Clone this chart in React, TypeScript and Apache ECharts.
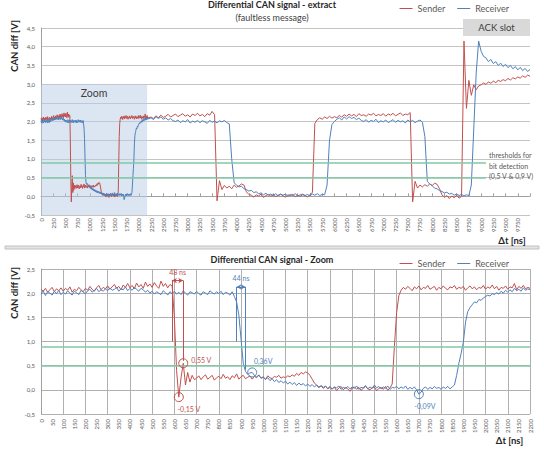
import React, { useEffect, useRef } from "react";
import * as echarts from "echarts";

// ---------- colours ----------
const SENDER_COLOR = "#c0504d";
const RECEIVER_COLOR = "#4f81bd";
const THRESHOLD_COLOR = "#7fc9a6";
const GRID_COLOR = "#c4c4c4";
const TEXT_COLOR = "#595959";
const FONT = "Lato, 'Open Sans', sans-serif";

// ---------- data ----------
// Zoomed window: one sample every 10 ns, 0 .. 2200 ns (CAN diff in V)
const zoomStartNs = 0;
const zoomStepNs = 10;
const senderZoom = [
  2.08, 2.04, 2.1, 2.02, 2.07, 2.12, 2.03, 2.09, 2.05, 2.11,
  2.04, 2.1, 2.06, 2.13, 2.02, 2.08, 2.05, 2.12, 2.07, 2.03,
  2.1, 2.06, 2.14, 2.08, 2.04, 2.11, 2.16, 2.07, 2.12, 2.09,
  2.15, 2.08, 2.13, 2.18, 2.1, 2.14, 2.07, 2.17, 2.12, 2.2,
  2.11, 2.16, 2.09, 2.21, 2.13, 2.18, 2.1, 2.23, 2.14, 2.19,
  2.12, 2.22, 2.15, 2.1, 2.25, 2.14, 2.2, 2.11, 2.18, 2.15,
  1.5, 0.4, -0.15, 0.25, 0.55, 0.1, 0.36, 0.16, 0.3, 0.21,
  0.24, 0.29, 0.21, 0.27, 0.31, 0.22, 0.26, 0.3, 0.2, 0.25,
  0.28, 0.23, 0.32, 0.24, 0.27, 0.21, 0.29, 0.25, 0.33, 0.22,
  0.27, 0.3, 0.23, 0.26, 0.29, 0.22, 0.28, 0.25, 0.31, 0.24,
  0.27, 0.21, 0.29, 0.25, 0.23, 0.28, 0.26, 0.3, 0.24, 0.27,
  0.25, 0.29, 0.27, 0.31, 0.28, 0.34, 0.3, 0.36, 0.33, 0.37,
  0.35, 0.3, 0.22, 0.14, 0.1, 0.06, 0.08, 0.03, 0.07, 0.02,
  0.05, 0.01, 0.06, -0.02, 0.04, 0.07, 0.0, 0.05, 0.02, -0.03,
  0.04, 0.06, 0.01, 0.05, -0.01, 0.03, 0.07, 0.02, 0.0, 0.04,
  0.06, -0.02, 0.03, 0.05, 0.01, 0.07, -0.01, 0.04, 0.12, 0.9,
  1.6, 1.95, 2.06, 2.12, 2.08, 2.14, 2.1, 2.05, 2.13, 2.09,
  2.15, 2.07, 2.12, 2.1, 2.16, 2.08, 2.11, 2.14, 2.06, 2.12,
  2.09, 2.15, 2.1, 2.07, 2.13, 2.11, 2.16, 2.08, 2.12, 2.1,
  2.14, 2.06, 2.11, 2.15, 2.09, 2.13, 2.07, 2.12, 2.1, 2.16,
  2.08, 2.13, 2.1, 2.17, 2.09, 2.14, 2.06, 2.12, 2.1, 2.15,
  2.08, 2.13, 2.11, 2.2, 2.07, 2.14, 2.1, 2.16, 2.09, 2.12,
  2.1,
];
const receiverZoom = [
  1.98, 2.05, 1.95, 2.03, 2.0, 1.96, 2.04, 1.99, 2.06, 1.97,
  2.02, 1.98, 2.05, 2.0, 1.96, 2.04, 2.01, 1.97, 2.06, 2.02,
  1.99, 2.05, 2.08, 2.02, 2.06, 2.1, 2.03, 2.07, 2.04, 2.09,
  2.05, 2.11, 2.06, 2.08, 2.12, 2.04, 2.09, 2.07, 2.13, 2.05,
  2.1, 2.06, 2.12, 2.08, 2.04, 2.1, 2.07, 2.02, 2.06, 2.0,
  2.04, 1.98, 2.03, 2.0, 1.97, 2.05, 2.01, 1.96, 2.03, 1.99,
  2.04, 1.98, 2.02, 1.97, 2.05, 2.0, 1.96, 2.03, 2.01, 1.98,
  2.04, 1.99, 1.96, 2.03, 2.0, 1.97, 2.05, 2.01, 1.98, 2.03,
  1.99, 2.04, 1.97, 2.02, 2.0, 1.96, 2.03, 1.93, 1.82, 1.55,
  1.05, 0.55, 0.38, 0.32, 0.35, 0.36, 0.3, 0.27, 0.3, 0.24,
  0.26, 0.22, 0.25, 0.19, 0.23, 0.17, 0.21, 0.15, 0.19, 0.14,
  0.18, 0.12, 0.16, 0.11, 0.15, 0.09, 0.14, 0.1, 0.13, 0.08,
  0.12, 0.07, 0.11, 0.06, 0.1, 0.04, 0.09, 0.05, 0.08, 0.03,
  0.07, 0.02, 0.06, 0.04, 0.08, 0.01, 0.05, 0.03, 0.07, 0.02,
  0.06, 0.03, 0.08, 0.01, 0.05, 0.04, 0.09, 0.02, 0.06, 0.03,
  0.1, 0.04, 0.07, 0.02, 0.06, 0.03, 0.08, 0.01, 0.05, 0.04,
  0.07, 0.02, 0.06, 0.03, 0.08, 0.01, 0.05, 0.02, 0.06, 0.0,
  -0.09, -0.05, 0.03, 0.06, 0.01, 0.05, 0.02, 0.07, 0.03, 0.05,
  0.01, 0.06, 0.03, 0.07, 0.02, 0.06, 0.1, 0.3, 0.55, 0.75,
  0.98, 1.4, 1.62, 1.7, 1.76, 1.82, 1.8, 1.87, 1.85, 1.9,
  1.93, 1.96, 1.94, 1.99, 1.97, 2.01, 1.98, 2.04, 2.0, 2.06,
  2.02, 2.07, 2.03, 2.1, 2.05, 2.08, 2.04, 2.11, 2.06, 2.09,
  2.07,
];

// Rest of the message: one sample every 50 ns, 2250 .. 10000 ns
const extractStartNs = 2250;
const extractStepNs = 50;
const senderExtract = [
  2.12, 2.08, 2.15, 2.1, 2.17, 2.11, 2.14, 2.19, 2.12, 2.16,
  2.2, 2.13, 2.17, 2.21, 2.14, 2.18, 2.12, 2.2, 2.16, 2.22,
  2.15, 2.19, 2.13, 2.21, 2.17, 2.27, 2.18,
  -0.12, 0.42, 0.18, 0.29, 0.22, 0.27, 0.2, 0.3, 0.24, 0.28, 0.33, 0.3, 0.12, 0.05,
  0.03, -0.02, 0.04, 0.01, 0.06, -0.03, 0.02, 0.05, 0.0, 0.04,
  -0.01, 0.03, 0.06, 0.01, -0.02, 0.04, 0.02, 0.05, -0.01, 0.03,
  0.0, 0.04, 0.02, -0.02, 0.05,
  0.1, 1.95,
  2.05, 2.1, 2.06, 2.12, 2.08, 2.14, 2.09, 2.13, 2.1, 2.16,
  2.12, 2.18, 2.14, 2.2, 2.15, 2.19, 2.13, 2.21, 2.16, 2.18,
  2.14, 2.2, 2.17, 2.22, 2.15, 2.19, 2.16, 2.21, 2.14, 2.2,
  2.17, 2.22, 2.15, 2.19, 2.23, 2.16, 2.2, 2.18, 2.24,
  -0.15, 0.4, 0.22, 0.3, 0.25, 0.31, 0.27, 0.33, 0.29, 0.35, 0.32, 0.2, 0.04,
  -0.03, 0.02, -0.06, 0.01, -0.04, 0.03, -0.05, 0.0,
  4.15, 2.35, 3.1, 2.7, 2.98, 2.85, 2.95,
  2.98, 3.03, 2.99, 3.06, 3.02, 3.08, 3.04, 3.1, 3.07, 3.12,
  3.09, 3.15, 3.11, 3.17, 3.14, 3.19, 3.16, 3.22, 3.18, 3.24, 3.21,
];
const receiverExtract = [
  2.1, 2.05, 2.13, 2.08, 2.12, 2.06, 2.1, 2.04, 2.08, 2.02,
  2.0, 2.04, 1.97, 2.02, 1.99, 2.05, 1.96, 2.01, 1.98, 2.03,
  1.97, 2.02, 1.99, 1.95, 2.03, 1.98, 2.01, 1.96, 2.02, 1.99, 2.03, 1.97,
  1.94, 1.0, 0.36, 0.3, 0.25, 0.27, 0.2, 0.18, 0.14, 0.16,
  0.1, 0.12, 0.07, 0.09, 0.04, 0.08, 0.03, 0.06, 0.02, 0.07,
  0.01, 0.05, 0.03, 0.06, 0.0, 0.05, 0.02, 0.07, 0.01, 0.04,
  0.06, 0.02, 0.05, 0.01, 0.06, 0.03, 0.07, 0.02, 0.05, 0.04,
  0.3, 1.5, 1.92, 2.0,
  2.06, 2.1, 2.04, 2.12, 2.07, 2.13, 2.08, 2.11, 2.05, 2.09,
  2.03, 2.0, 2.05, 1.98, 2.03, 2.0, 2.06, 1.97, 2.02, 1.99,
  2.04, 1.97, 2.01, 2.05, 1.98, 2.03, 1.99, 2.02, 1.96, 2.04,
  1.99, 2.03, 1.97, 2.01, 2.04, 1.98,
  1.6, 0.4, 0.33, 0.28, 0.22, 0.2, 0.15, 0.13, 0.09, 0.11,
  0.06, 0.08, 0.03, 0.06, 0.02, 0.05, 0.01, 0.04, 0.02,
  0.3, 1.8, 3.3, 4.15,
  3.88, 3.74, 3.7, 3.6, 3.66, 3.55, 3.6, 3.5, 3.56, 3.47,
  3.53, 3.44, 3.5, 3.41, 3.47, 3.38, 3.45, 3.36, 3.42, 3.34, 3.39,
];

// Axes
const extractRangeNs = [0, 10000];
const extractTickNs = 250;
const extractRangeV = [-0.5, 4.5];
const zoomRangeNs = [0, 2200];
const zoomLabelTickNs = 50;
const zoomGridTickNs = 100;
const zoomRangeV = [-0.5, 2.5];
const voltTick = 0.5;

// Annotations
const thresholdsV = [0.5, 0.9];
const thresholdLineEndNs = 9100;
const zoomWindowNs = [0, 2170];
const zoomWindowTopV = 3;
const senderDelay = { fromNs: 589, toNs: 640, levelV: 2.26, textV: 2.44, fromBottomV: 1.0, toBottomV: 0.6, label: "48 ns" };
const receiverDelay = { fromNs: 879, toNs: 921, levelV: 2.13, textV: 2.31, fromBottomV: 1.0, toBottomV: 0.42, label: "44 ns" };
const senderMarks = [
  { ns: 620, v: -0.15, label: "-0,15 V", pos: "bottom", offset: [10, 0] },
  { ns: 640, v: 0.55, label: "0,55 V", pos: "right", offset: [0, -3] },
];
const receiverMarks = [
  { ns: 950, v: 0.36, label: "0,36V", pos: "top", offset: [11, 0] },
  { ns: 1700, v: -0.09, label: "-0,09V", pos: "bottom", offset: [6, 0] },
];

const toPairs = (start: number, step: number, values: number[]) =>
  values.map((v, i) => [start + i * step, v]);

const fmtV = (v: number) => v.toFixed(1).replace(".", ",");

function buildOption() {
  const topSender = [
    ...toPairs(zoomStartNs, zoomStepNs, senderZoom),
    ...toPairs(extractStartNs, extractStepNs, senderExtract),
  ];
  const topReceiver = [
    ...toPairs(zoomStartNs, zoomStepNs, receiverZoom),
    ...toPairs(extractStartNs, extractStepNs, receiverExtract),
  ];
  const botSender = toPairs(zoomStartNs, zoomStepNs, senderZoom);
  const botReceiver = toPairs(zoomStartNs, zoomStepNs, receiverZoom);

  const labelX = {
    rotate: 90,
    fontSize: 6,
    color: TEXT_COLOR,
    fontFamily: FONT,
    formatter: (v: number) => String(v),
  };
  const labelY = {
    fontSize: 6,
    color: TEXT_COLOR,
    fontFamily: FONT,
    formatter: fmtV,
    margin: 6,
  };

  const lineSeries = (name: string, color: string, data: number[][], xi: number, yi: number, extra: any = {}) => ({
    name,
    type: "line",
    xAxisIndex: xi,
    yAxisIndex: yi,
    data,
    symbol: "none",
    showSymbol: false,
    lineStyle: { width: 1, color },
    itemStyle: { color },
    z: 2,
    animation: false,
    ...extra,
  });

  const thresholdLines = (endNs: number) =>
    thresholdsV.map((v) => [{ coord: [0, v] }, { coord: [endNs, v] }]);

  const delayMarkLine = (d: any, color: string) => ({
    silent: true,
    symbol: "none",
    animation: false,
    label: { show: false },
    lineStyle: { color, width: 1, type: "solid" },
    data: [
      [{ coord: [d.fromNs, d.levelV] }, { coord: [d.fromNs, d.fromBottomV] }],
      [{ coord: [d.toNs, d.levelV] }, { coord: [d.toNs, d.toBottomV] }],
      [
        { coord: [d.fromNs, d.levelV], symbol: "arrow", symbolSize: [4, 5] },
        { coord: [d.toNs, d.levelV], symbol: "arrow", symbolSize: [4, 5] },
      ],
    ],
  });

  const pointMarks = (marks: any[], d: any, color: string) => ({
    silent: true,
    animation: false,
    data: [
      ...marks.map((m) => ({
        coord: [m.ns, m.v],
        symbol: "circle",
        symbolSize: 9,
        itemStyle: { color: "rgba(0,0,0,0)", borderColor: color, borderWidth: 1 },
        label: {
          show: true,
          formatter: m.label,
          position: m.pos,
          distance: 3,
          offset: m.offset,
          color,
          fontSize: 7,
          fontFamily: FONT,
        },
      })),
      {
        coord: [(d.fromNs + d.toNs) / 2, d.textV],
        symbol: "circle",
        symbolSize: 1,
        itemStyle: { color: "rgba(0,0,0,0)" },
        label: { show: true, formatter: d.label, position: "inside", color, fontSize: 7, fontFamily: FONT },
      },
    ],
  });

  const legendBase = {
    data: ["Sender", "Receiver"],
    right: 30,
    icon: "rect",
    itemWidth: 13,
    itemHeight: 1,
    itemGap: 12,
    textStyle: { fontSize: 9, color: TEXT_COLOR, fontFamily: FONT },
  };

  return {
    animation: false,
    textStyle: { fontFamily: FONT },
    title: [
      {
        text: "Differential CAN signal - extract",
        left: "center",
        top: 0,
        padding: 0,
        textStyle: { fontSize: 9, fontWeight: "bold", color: "#262626", fontFamily: FONT },
      },
      {
        text: "(faultless message)",
        left: "center",
        top: 13,
        padding: 0,
        textStyle: { fontSize: 9, fontWeight: "normal", color: "#404040", fontFamily: FONT },
      },
      {
        text: "Differential CAN signal - Zoom",
        left: "center",
        top: 255,
        padding: 0,
        textStyle: { fontSize: 9, fontWeight: "bold", color: "#262626", fontFamily: FONT },
      },
    ],
    legend: [
      { ...legendBase, top: -1 },
      { ...legendBase, top: 254 },
    ],
    grid: [
      { left: 41, top: 28, width: 489, height: 187 },
      { left: 41, top: 269, width: 489, height: 145 },
    ],
    xAxis: [
      {
        gridIndex: 0,
        type: "value",
        min: extractRangeNs[0],
        max: extractRangeNs[1],
        interval: extractTickNs,
        axisLine: { show: false, onZero: false },
        axisTick: { show: false },
        splitLine: { show: false },
        axisLabel: { ...labelX, margin: 3, showMaxLabel: false },
      },
      {
        gridIndex: 0,
        type: "value",
        min: extractRangeNs[0],
        max: extractRangeNs[1],
        interval: extractTickNs,
        axisLine: { show: true, onZero: true, lineStyle: { color: "#a0a0a0", width: 1 } },
        axisTick: { show: true, length: 3, lineStyle: { color: "#a0a0a0" } },
        splitLine: { show: false },
        axisLabel: { show: false },
      },
      {
        gridIndex: 1,
        type: "value",
        min: zoomRangeNs[0],
        max: zoomRangeNs[1],
        interval: zoomLabelTickNs,
        axisLine: { show: false, onZero: false },
        axisTick: { show: false },
        splitLine: { show: false },
        axisLabel: { ...labelX, margin: 5 },
      },
      {
        gridIndex: 1,
        type: "value",
        min: zoomRangeNs[0],
        max: zoomRangeNs[1],
        interval: zoomGridTickNs,
        axisLine: { show: false, onZero: false },
        axisTick: { show: false },
        splitLine: { show: true, lineStyle: { color: "#b0b0b0", width: 1 } },
        axisLabel: { show: false },
      },
    ],
    yAxis: [
      {
        gridIndex: 0,
        type: "value",
        min: extractRangeV[0],
        max: extractRangeV[1],
        interval: voltTick,
        axisLine: { show: true, lineStyle: { color: "#a0a0a0" } },
        axisTick: { show: false },
        splitLine: { show: true, lineStyle: { color: GRID_COLOR, width: 1 } },
        axisLabel: labelY,
      },
      {
        gridIndex: 1,
        type: "value",
        min: zoomRangeV[0],
        max: zoomRangeV[1],
        interval: voltTick,
        axisLine: { show: true, lineStyle: { color: "#a0a0a0" } },
        axisTick: { show: false },
        splitLine: { show: true, lineStyle: { color: "#b0b0b0", width: 1 } },
        axisLabel: labelY,
      },
    ],
    series: [
      {
        name: "zoom-window",
        type: "line",
        xAxisIndex: 1,
        yAxisIndex: 0,
        data: [],
        z: 1,
        silent: true,
        markArea: {
          silent: true,
          animation: false,
          itemStyle: { color: "rgba(185,205,229,0.5)" },
          label: {
            show: true,
            position: "insideTop",
            distance: 3,
            formatter: "Zoom",
            color: "#404040",
            fontSize: 10.5,
            fontFamily: FONT,
          },
          data: [[{ coord: [zoomWindowNs[0], zoomWindowTopV] }, { coord: [zoomWindowNs[1], extractRangeV[0]] }]],
        },
        markLine: {
          silent: true,
          symbol: "none",
          animation: false,
          label: { show: false },
          lineStyle: { color: THRESHOLD_COLOR, width: 1.5, type: "solid" },
          data: thresholdLines(thresholdLineEndNs),
        },
      },
      {
        name: "zoom-thresholds",
        type: "line",
        xAxisIndex: 3,
        yAxisIndex: 1,
        data: [],
        z: 1,
        silent: true,
        markLine: {
          silent: true,
          symbol: "none",
          animation: false,
          label: { show: false },
          lineStyle: { color: THRESHOLD_COLOR, width: 1.5, type: "solid" },
          data: thresholdLines(zoomRangeNs[1]),
        },
      },
      lineSeries("Sender", SENDER_COLOR, topSender, 0, 0),
      lineSeries("Receiver", RECEIVER_COLOR, topReceiver, 0, 0),
      lineSeries("Sender", SENDER_COLOR, botSender, 2, 1, {
        markLine: delayMarkLine(senderDelay, SENDER_COLOR),
        markPoint: pointMarks(senderMarks, senderDelay, SENDER_COLOR),
      }),
      lineSeries("Receiver", RECEIVER_COLOR, botReceiver, 2, 1, {
        markLine: delayMarkLine(receiverDelay, RECEIVER_COLOR),
        markPoint: pointMarks(receiverMarks, receiverDelay, RECEIVER_COLOR),
      }),
    ],
    graphic: [
      {
        type: "rect",
        z: 100,
        shape: { x: 463, y: 19, width: 67, height: 17 },
        style: { fill: "#d9d9d9" },
      },
      {
        type: "text",
        z: 101,
        x: 496.5,
        y: 27.5,
        style: {
          text: "ACK slot",
          fill: "#404040",
          fontSize: 9.5,
          fontFamily: FONT,
          align: "center",
          verticalAlign: "middle",
        },
      },
      {
        type: "text",
        z: 101,
        x: 489,
        y: 150,
        style: {
          text: "thresholds for\nbit detection\n(0,5 V & 0,9 V)",
          fill: TEXT_COLOR,
          fontSize: 7,
          lineHeight: 10.5,
          fontFamily: FONT,
          align: "left",
          verticalAlign: "top",
        },
      },
      {
        type: "text",
        z: 101,
        x: 14,
        y: 46,
        rotation: Math.PI / 2,
        style: {
          text: "CAN diff [V]",
          fill: "#262626",
          fontSize: 9.5,
          fontWeight: "bold",
          fontFamily: FONT,
          align: "center",
          verticalAlign: "middle",
        },
      },
      {
        type: "text",
        z: 101,
        x: 14,
        y: 293,
        rotation: Math.PI / 2,
        style: {
          text: "CAN diff [V]",
          fill: "#262626",
          fontSize: 9.5,
          fontWeight: "bold",
          fontFamily: FONT,
          align: "center",
          verticalAlign: "middle",
        },
      },
      {
        type: "text",
        z: 101,
        x: 512,
        y: 240,
        style: {
          text: "Δt [ns]",
          fill: "#262626",
          fontSize: 9.5,
          fontWeight: "bold",
          fontFamily: FONT,
          align: "center",
          verticalAlign: "middle",
        },
      },
      {
        type: "text",
        z: 101,
        x: 509.5,
        y: 440,
        style: {
          text: "Δt [ns]",
          fill: "#262626",
          fontSize: 9.5,
          fontWeight: "bold",
          fontFamily: FONT,
          align: "center",
          verticalAlign: "middle",
        },
      },
      {
        type: "rect",
        z: 100,
        shape: { x: 5, y: 246, width: 534, height: 3 },
        style: { fill: "#e4e4e4", stroke: "#c0c0c0", lineWidth: 1 },
      },
    ],
  };
}

export default function App() {
  const ref = useRef<HTMLDivElement | null>(null);
  useEffect(() => {
    if (!ref.current) return;
    const chart = echarts.init(ref.current, undefined, { renderer: "svg" });
    chart.setOption(buildOption() as any);
    return () => chart.dispose();
  }, []);
  return (
    <div
      ref={ref}
      style={{ position: "fixed", left: 0, top: 0, width: 544, height: 455, background: "#ffffff" }}
    />
  );
}
